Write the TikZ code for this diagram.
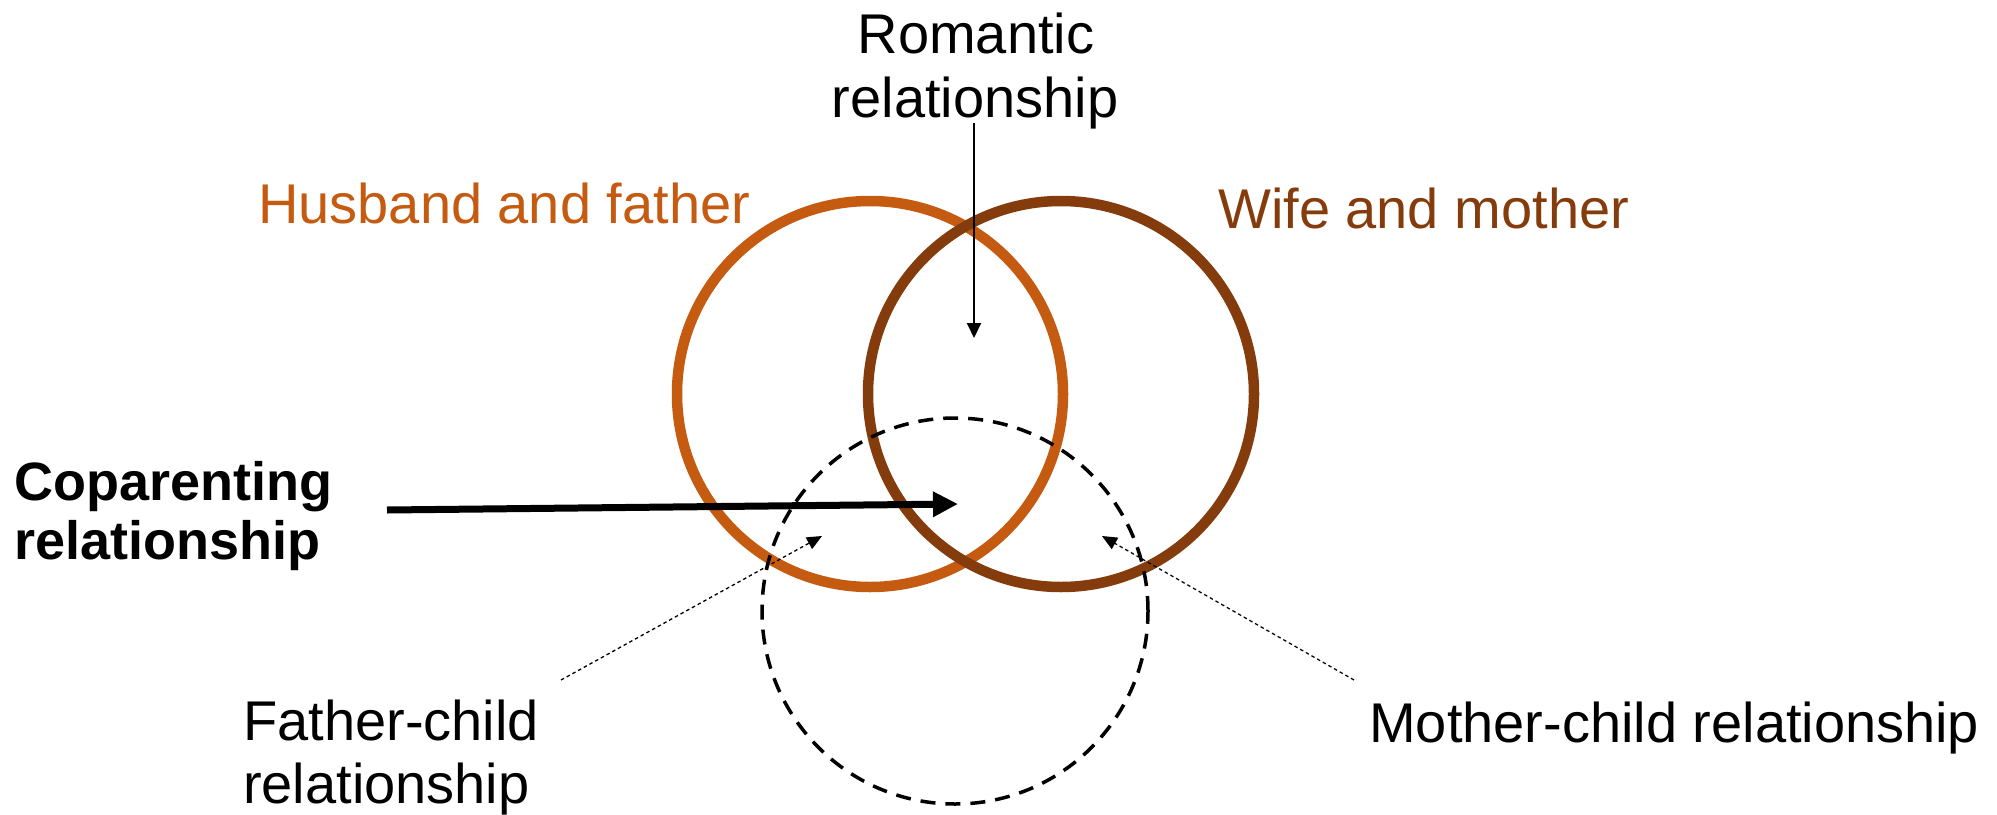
\documentclass[tikz,border=0pt]{standalone}
\usepackage{fontspec}
\setmainfont{Liberation Sans}
\usetikzlibrary{arrows.meta}
\definecolor{husb}{HTML}{C55A11}
\definecolor{wife}{HTML}{843C0C}
\begin{document}
\begin{tikzpicture}[x=1pt,y=-1pt,
  lbl/.style={inner sep=0pt, font=\fontsize{56}{63}\selectfont},
  blbl/.style={inner sep=0pt, font=\fontsize{54}{60}\selectfont\bfseries},
  ring/.style={circle, draw, line width=10.5pt, minimum size=386pt, inner sep=0pt},
  childring/.style={circle, draw=black, line width=3.5pt, dash pattern=on 15pt off 10pt, minimum size=386pt, inner sep=0pt},
  romarrow/.style={draw=black, line width=2pt, -{Triangle[length=15pt,width=14pt]}},
  coarrow/.style={draw=black, line width=7pt, -{Triangle[length=25pt,width=24pt]}},
  dotarrow/.style={draw=black, line width=1.3pt, dash pattern=on 3.5pt off 3pt, -{Triangle[length=15pt,width=13pt]}}
]
\useasboundingbox (0,0) rectangle (1997,814);
\fill[white] (0,0) rectangle (1997,814);

% circles
\node[ring, draw=husb] (husbc) at (870,394) {};
\node[ring, draw=wife] (wifec) at (1061,394) {};
\node[childring] (childc) at (955,611) {};

% labels
\node[lbl, anchor=base] (rom1) at (976,53) {Romantic};
\node[lbl, anchor=base] (rom2) at (975,117) {relationship};
\node[lbl, anchor=base west, text=husb] (husbl) at (258,223) {Husband and father};
\node[lbl, anchor=base west, text=wife] (wifel) at (1218,228) {Wife and mother};
\node[blbl, anchor=base west] (co1) at (14,500) {Coparenting};
\node[blbl, anchor=base west] (co2) at (14,559) {relationship};
\node[lbl, anchor=base west] (fc1) at (243,740) {Father-child};
\node[lbl, anchor=base west] (fc2) at (243,803) {relationship};
\node[lbl, anchor=base west] (mc) at (1369,742) {Mother-child relationship};

% connector end points
\coordinate (romS) at (974,123);
\coordinate (romT) at (974,338);
\coordinate (coS) at (387,510);
\coordinate (coT) at (958,504);
\coordinate (fcS) at (561,680);
\coordinate (fcT) at (822,536);
\coordinate (mcS) at (1354,680);
\coordinate (mcT) at (1102,536);

\draw[romarrow] (romS) -- (romT);
\draw[coarrow] (coS) -- (coT);
\draw[dotarrow] (fcS) -- (fcT);
\draw[dotarrow] (mcS) -- (mcT);
\end{tikzpicture}
\end{document}
